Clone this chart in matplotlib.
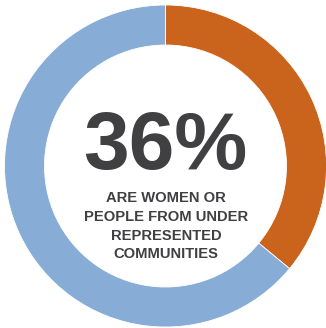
import matplotlib
matplotlib.use("Agg")
import matplotlib.pyplot as plt

labels = ["Women or under-represented", "Others"]
values = [36, 64]
colors = ["#CA631C", "#87ADD7"]
big_text = "36%"
sub_lines = ["ARE WOMEN OR", "PEOPLE FROM UNDER", "REPRESENTED", "COMMUNITIES"]

W, H = 326, 328
fig = plt.figure(figsize=(W / 100, H / 100), dpi=100)
ax = fig.add_axes([0, 0, 1, 1])
ax.pie(values, colors=colors, startangle=90, counterclock=False,
       center=(165.5, H - 166), radius=161,
       wedgeprops=dict(width=40, edgecolor="white", linewidth=0.6))
ax.set_xlim(0, W)
ax.set_ylim(0, H)
ax.set_aspect("equal")
ax.axis("off")

ax.text(165, H - 140, big_text, ha="center", va="center_baseline",
        fontsize=59, fontweight="bold", family="Liberation Sans", color="#404042")
ys = [197, 215.5, 234, 252.5]
for line, y in zip(sub_lines, ys):
    ax.text(166, H - y, line, ha="center", va="center_baseline",
            fontsize=10.6, fontweight="bold", family="Liberation Sans", color="#404042")

fig.savefig("out.png", dpi=100, facecolor="white")
